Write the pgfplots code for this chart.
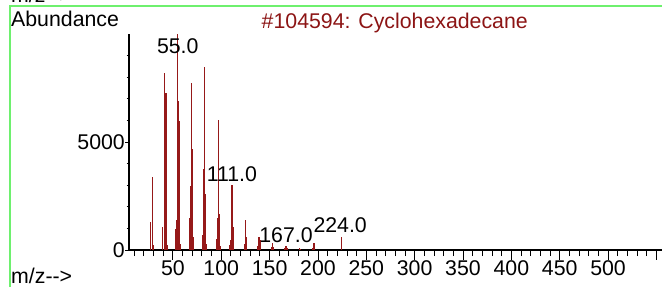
\documentclass[border=0pt]{standalone}
\usepackage{fontspec}
\setmainfont{Liberation Sans}
\usepackage{pgfplots}
\pgfplotsset{compat=1.18}
\definecolor{peak}{RGB}{150,25,25}
\definecolor{ttl}{RGB}{140,20,20}
\definecolor{grn}{RGB}{110,240,110}
\newcommand{\fs}{\fontsize{21.3}{25}\selectfont}
\begin{document}
\begin{tikzpicture}[x=1pt,y=1pt]
\useasboundingbox (0,0) rectangle (662,287);
\draw[grn, line width=1.6pt] (10,0) -- (10,281) -- (662,281);
\node[anchor=base west, inner sep=0] at (11,284) {\fs m/z{-}{-}>};
\node[anchor=base west, inner sep=0] at (11,260.3) {\fs Abundance};
\node[anchor=base east, inner sep=0, text=ttl] at (528,258.7) {\fs \#104594: Cyclohexadecane};
\node[anchor=base west, inner sep=0] at (11,4) {\fs m/z{-}{-}>};
\begin{axis}[at={(129pt,37pt)}, anchor=south west, scale only axis,
  width=533pt, height=216pt, xmin=4.6, xmax=555.8, ymin=0, ymax=10000,
  axis x line*=bottom, axis y line=none, x axis line style={-, line width=1.2pt},
  clip=false, scaled ticks=false,
  xtick={50,100,...,550},
  xticklabels={50,100,150,200,250,300,350,400,450,500,{}},
  minor xtick={10,20,...,550},
  tick align=outside, major tick length=9.5pt, minor tick length=6pt,
  tick style={black, line width=0.9pt},
  xticklabel style={font=\fs, anchor=north, inner sep=0pt, yshift=-1pt},
  /pgf/number format/assume math mode=true]
\addplot[ycomb, color=peak, line width=1.3pt, mark=none] coordinates {
(27,1300) (29,3400) (30,250)
(39,1050) (41,8210) (42,2050) (43,7250) (44,250)
(53,955) (54,1400) (55,10000) (56,6900) (57,5990) (58,300)
(67,1470) (68,2960) (69,7750) (70,4690) (71,600)
(81,700) (82,3735) (83,8460) (84,2600) (85,300)
(95,500) (96,1470) (97,6020) (98,1670) (99,200)
(109,250) (110,460) (111,3010) (112,1080) (113,150)
(124,300) (125,1390) (126,620)
(138,200) (139,590) (140,460)
(152,150) (153,310) (154,150)
(166,80) (167,185) (168,80)
(181,80) (182,60)
(195,80) (196,340)
(224,590)
};
\node[anchor=base, inner sep=0, font=\fs] at (axis cs:55,9106) {55.0};
\node[anchor=base, inner sep=0, font=\fs] at (axis cs:111,3160) {111.0};
\node[anchor=base, inner sep=0, font=\fs] at (axis cs:167,370) {167.0};
\node[anchor=base, inner sep=0, font=\fs] at (axis cs:223,800) {224.0};
\end{axis}
\begin{axis}[at={(129pt,37pt)}, anchor=south west, scale only axis,
  width=533pt, height=216pt, xmin=4.6, xmax=555.8, ymin=0, ymax=10000,
  axis x line=none, axis y line*=left, y axis line style={-, line width=1.2pt},
  scaled ticks=false,
  ytick={0,5000}, yticklabels={0,5000},
  minor ytick={1000,2000,...,9000},
  tick align=outside, major tick length=4pt, minor tick length=2.5pt,
  tick style={black, line width=0.9pt},
  yticklabel style={font=\fs, anchor=east, inner sep=0pt},
  /pgf/number format/assume math mode=true]
\end{axis}
\end{tikzpicture}
\end{document}
